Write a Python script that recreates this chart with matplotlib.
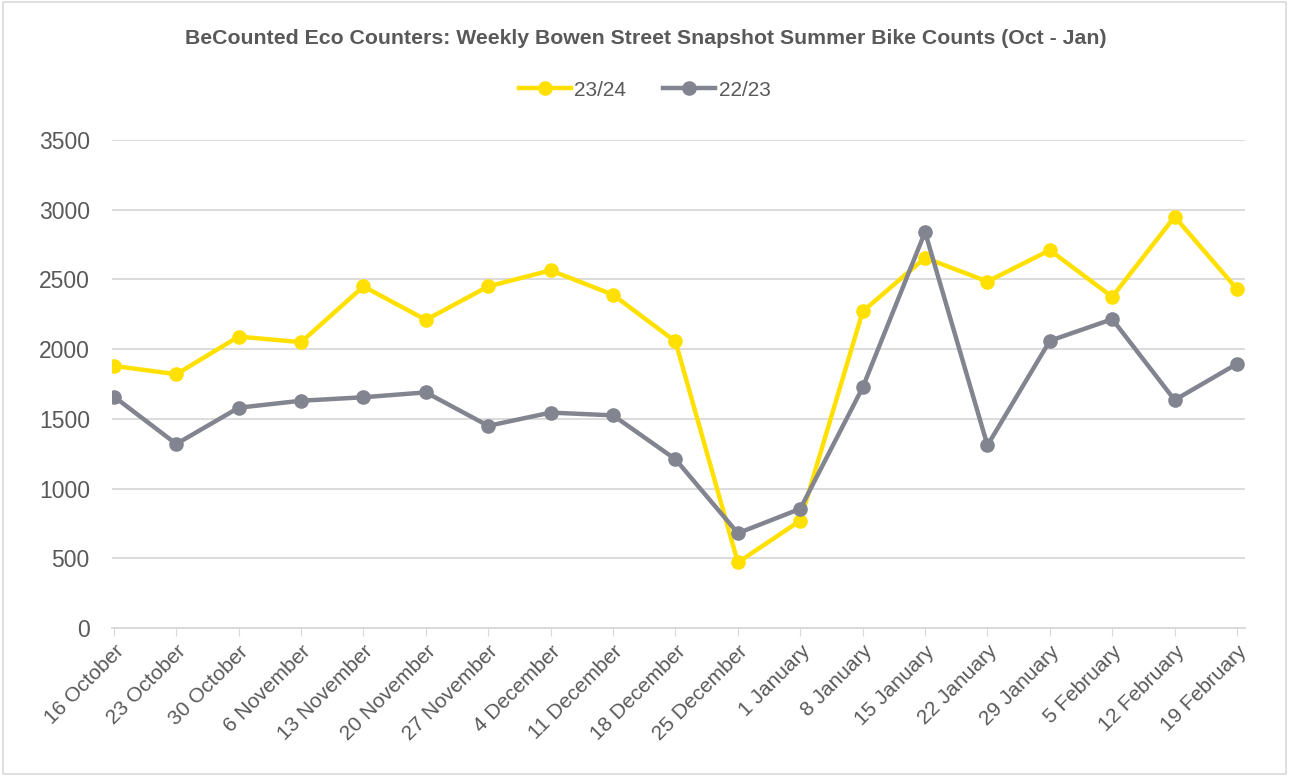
import matplotlib
matplotlib.use("Agg")
import matplotlib.pyplot as plt
import numpy as np

plt.rcParams['font.family'] = ['Liberation Sans', 'DejaVu Sans']

# ── data ──────────────────────────────────────────────
weeks = ["16 October", "23 October", "30 October", "6 November", "13 November",
         "20 November", "27 November", "4 December", "11 December", "18 December",
         "25 December", "1 January", "8 January", "15 January", "22 January",
         "29 January", "5 February", "12 February", "19 February"]
counts_2324 = [1880, 1820, 2090, 2050, 2450, 2210, 2450, 2565, 2390, 2055,
               470, 770, 2270, 2655, 2485, 2710, 2375, 2950, 2430]
counts_2223 = [1660, 1320, 1580, 1630, 1655, 1690, 1450, 1545, 1525, 1210,
               680, 855, 1725, 2840, 1310, 2060, 2215, 1635, 1895]

YELLOW = "#FFE000"
GREY = "#82848F"
TXT = "#595959"

fig = plt.figure(figsize=(12.89, 7.76), dpi=100, facecolor="white")
ax = fig.add_axes([0.0869, 0.1907, 0.8791, 0.6289])

x = np.arange(len(weeks))
ax.plot(x, counts_2324, color=YELLOW, lw=3.2, marker='o', ms=9.5, label="23/24", zorder=3)
ax.plot(x, counts_2223, color=GREY, lw=3.2, marker='o', ms=9.5, label="22/23", zorder=4)

ax.set_ylim(0, 3500)
ax.set_yticks(range(0, 3501, 500))
ax.set_xlim(-0.03, 18.13)
ax.set_xticks(x)
ax.set_xticklabels(weeks, rotation=45, ha='right', rotation_mode='anchor')
ax.tick_params(axis='x', length=6, color="#D9D9D9", colors=TXT, labelsize=15, pad=4)
ax.tick_params(axis='y', length=0, colors=TXT, labelsize=16.5, pad=16)
ax.grid(axis='y', color="#D9D9D9", lw=1.3)
ax.set_axisbelow(True)
for s in ['top', 'right', 'left']:
    ax.spines[s].set_visible(False)
ax.spines['bottom'].set_color("#D9D9D9")
ax.spines['bottom'].set_linewidth(1.3)

fig.text(0.501, 0.951, "BeCounted Eco Counters: Weekly Bowen Street Snapshot Summer Bike Counts (Oct - Jan)",
         ha='center', va='center', fontsize=15.3, fontweight='bold', color=TXT)

fig.legend(loc='center', bbox_to_anchor=(0.5, 0.884), ncol=2, frameon=False,
           fontsize=15, labelcolor=TXT, handlelength=2.5, columnspacing=1.8,
           handletextpad=0.15)

# outer border
fig.add_artist(plt.Rectangle((0.002, 0.002), 0.996, 0.996, transform=fig.transFigure,
                             fill=False, edgecolor="#D9D9D9", lw=1.2))

fig.savefig("out.png", dpi=100, facecolor="white")
